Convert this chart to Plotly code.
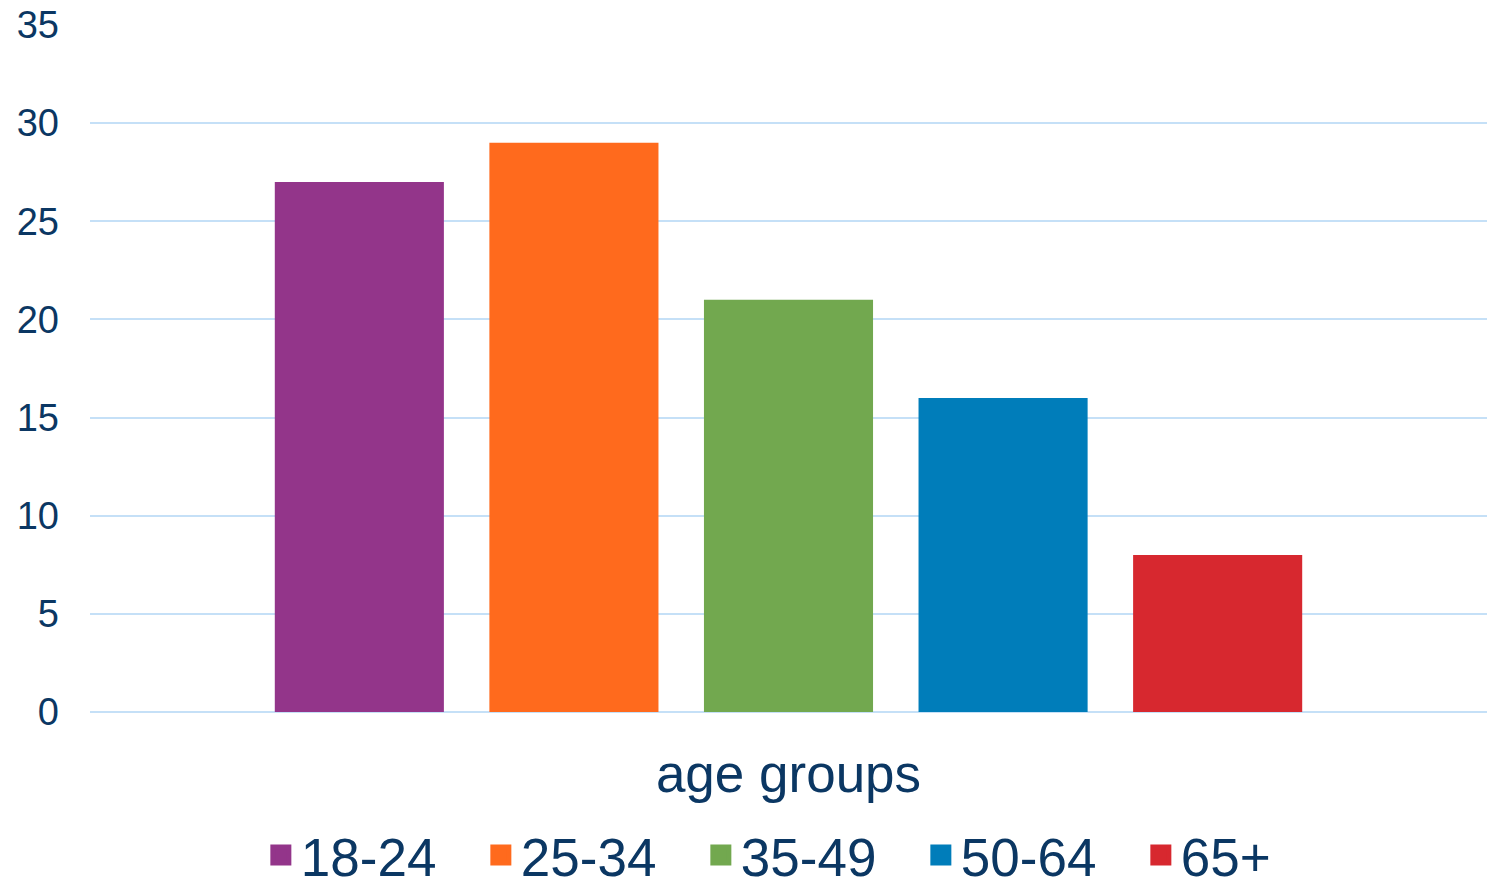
import plotly.graph_objects as go

category = ["age groups"]
series_names = ["18-24", "25-34", "35-49", "50-64", "65+"]
series_values = [27, 29, 21, 16, 8]
colors = ["#93358A", "#FF6A1D", "#72A84F", "#007DBA", "#D7282F"]
y_ticks = [0, 5, 10, 15, 20, 25, 30, 35]

text_color = "#0B3763"
font_family = "Liberation Sans, Arial, sans-serif"

fig = go.Figure()
for name, val, col in zip(series_names, series_values, colors):
    fig.add_trace(go.Bar(x=category, y=[val], name=name, marker_color=col,
                         marker_line_width=0, showlegend=False))
# legend entries (square markers)
for name, col in zip(series_names, colors):
    fig.add_trace(go.Scatter(x=[None], y=[None], mode="markers", name=name,
                             marker=dict(symbol="square", size=16, color=col,
                                         line=dict(color=col, width=5))))

fig.update_layout(
    width=1493, height=879,
    margin=dict(l=90, r=6, t=25, b=167, autoexpand=False),
    paper_bgcolor="white", plot_bgcolor="white",
    barmode="group", bargap=0.232, bargroupgap=0.212,
    font=dict(family=font_family, color=text_color),
    legend=dict(orientation="h", x=0.516, y=-0.1485, xanchor="center", yanchor="top",
                font=dict(size=53, color=text_color), entrywidth=175,
                itemsizing="trace", bgcolor="rgba(0,0,0,0)"),
)
fig.update_xaxes(showgrid=False, showline=False, ticks="",
                 tickfont=dict(size=53, color=text_color), ticklabelstandoff=26)
fig.update_yaxes(range=[0, 35], tickvals=y_ticks, showgrid=True,
                 gridcolor="#C5E0F7", gridwidth=1.5, zeroline=True,
                 zerolinecolor="#C5E0F7", zerolinewidth=1.5, showline=False,
                 tickfont=dict(size=38, color=text_color), ticklabelstandoff=30)

fig.write_html("out.html")
